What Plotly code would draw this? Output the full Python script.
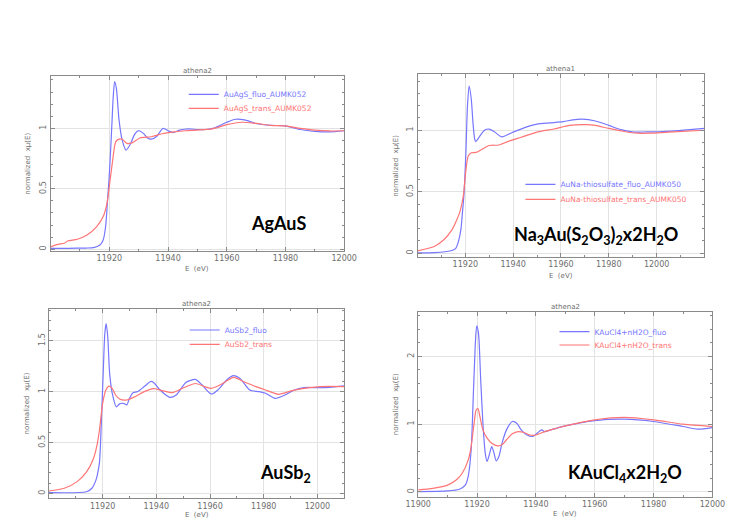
import plotly.graph_objects as go

W, H = 737, 518

# ---------------- data ----------------
# Panel 1: AgAuS
e_agaus_fluo = [11900, 11906, 11912, 11914.6, 11916.8, 11917.9, 11918.75, 11919.4, 11919.9, 11920.4, 11920.9,
                11921.3, 11921.8, 11922.4, 11923.3, 11924.4, 11925.7, 11927.2, 11928.6, 11929.9, 11931.5, 11933,
                11934.3, 11936.2, 11938.3, 11940, 11941.6, 11944, 11947, 11950, 11953, 11956, 11960, 11963, 11966,
                11970, 11975, 11980, 11985, 11990, 11995, 12000]
mu_agaus_fluo = [0.008, 0.008, 0.01, 0.013, 0.035, 0.077, 0.19, 0.41, 0.58, 0.80, 1.05,
                 1.25, 1.387, 1.33, 1.07, 0.90, 0.82, 0.87, 0.95, 0.98, 0.96, 0.92,
                 0.91, 0.935, 1.0, 0.98, 0.965, 0.985, 0.995, 0.99, 0.99, 1.005, 1.05, 1.075, 1.07,
                 1.04, 1.025, 1.02, 0.99, 0.975, 0.97, 0.98]
e_agaus_trans = [11900, 11902.5, 11904.7, 11905.8, 11909.1, 11912.4, 11915.7, 11917.9, 11919.2, 11920, 11921,
                 11922.2, 11923.3, 11924.4, 11926, 11927.7, 11930.4, 11934.3, 11938, 11942, 11946, 11950, 11955,
                 11960, 11965, 11970, 11975, 11980, 11985, 11990, 11995, 12000]
mu_agaus_trans = [0.02, 0.04, 0.05, 0.068, 0.083, 0.118, 0.187, 0.27, 0.38, 0.52, 0.71,
                  0.89, 0.91, 0.91, 0.875, 0.88, 0.92, 0.93, 0.955, 0.97, 0.98, 0.985, 0.995,
                  1.03, 1.05, 1.04, 1.025, 1.02, 1.0, 0.985, 0.978, 0.98]

# Panel 2: Na3Au(S2O3)2 x 2H2O
e_na_fluo = [11900, 11907, 11914, 11916, 11917.1, 11918.2, 11918.7, 11919.4, 11920.2, 11920.9, 11921.6, 11922.5,
             11923.2, 11923.9, 11924.3, 11926, 11928, 11929.9, 11932, 11935.3, 11940, 11946, 11950, 11955.5,
             11961, 11965, 11969, 11974.4, 11980, 11985, 11990.5, 11996, 12001, 12009, 12020]
mu_na_fluo = [0.003, 0.005, 0.02, 0.04, 0.094, 0.2, 0.31, 0.47, 0.8, 1.2, 1.36, 1.25,
              1.06, 0.93, 0.908, 0.95, 1.0, 1.01, 0.99, 0.946, 0.985, 1.03, 1.05, 1.06,
              1.07, 1.085, 1.09, 1.075, 1.04, 1.005, 0.985, 0.987, 0.987, 0.997, 1.015]
e_na_trans = [11900, 11907, 11911, 11914.4, 11916.4, 11917.8, 11919.2, 11920, 11921.2, 11922.5, 11924.5, 11926.5,
              11930, 11934, 11938, 11943.4, 11950, 11957, 11963.6, 11970.4, 11974.4, 11980, 11986.5, 11992,
              11997, 12005, 12020]
mu_na_trans = [0.02, 0.055, 0.11, 0.19, 0.27, 0.34, 0.47, 0.63, 0.79, 0.817, 0.82, 0.84,
               0.876, 0.88, 0.91, 0.943, 0.985, 1.01, 1.04, 1.046, 1.04, 1.015, 0.99, 0.976,
               0.976, 0.985, 1.0]

# Panel 3: AuSb2
e_ausb_fluo = [11900, 11914, 11916, 11917.5, 11918, 11918.8, 11919.5, 11920.2, 11920.8, 11921.3, 11921.9, 11922.6,
               11923.6, 11925.1, 11926.3, 11927.7, 11929, 11930, 11931.3, 11933, 11935.5, 11937.9, 11939, 11941.4,
               11945, 11947.4, 11951, 11954.5, 11956.9, 11960.5, 11962.9, 11966.4, 11968.8, 11971.2, 11974.8,
               11978.3, 11980.7, 11984.3, 11987.9, 11991.4, 11995, 12000, 12004.5, 12010]
mu_ausb_fluo = [0.007, 0.016, 0.05, 0.13, 0.18, 0.3, 0.69, 1.18, 1.57, 1.67, 1.54, 1.18,
                0.98, 0.85, 0.88, 0.885, 0.87, 0.935, 0.99, 1.0, 1.05, 1.1, 1.09, 1.016,
                0.944, 0.967, 1.09, 1.12, 1.07, 0.977, 1.016, 1.12, 1.157, 1.13, 1.016,
                1.0, 0.984, 0.934, 0.967, 1.016, 1.04, 1.04, 1.043, 1.056]
e_ausb_trans = [11900, 11905.7, 11910.5, 11914, 11916.4, 11917.9, 11918.8, 11920, 11921.2, 11922.4, 11923.6,
                11924.8, 11926.5, 11929, 11932, 11935.5, 11939, 11942.6, 11946, 11949.8, 11954.5, 11958, 11960.5,
                11964, 11968.8, 11972.4, 11977.1, 11980.7, 11985.5, 11990.2, 11995, 12001, 12010]
mu_ausb_trans = [0.023, 0.05, 0.115, 0.21, 0.33, 0.475, 0.62, 0.885, 1.016, 1.055, 1.03,
                 0.967, 0.925, 0.918, 0.95, 1.0, 1.03, 1.007, 0.99, 1.033, 1.08, 1.05, 1.033,
                 1.07, 1.14, 1.1, 1.05, 1.016, 0.974, 1.007, 1.033, 1.05, 1.05]

# Panel 4: KAuCl4 x 2H2O
e_kau_fluo = [11900, 11910, 11914, 11916, 11917, 11918, 11918.8, 11919.5, 11919.9, 11920.5, 11921.2, 11922,
              11922.8, 11923.4, 11924.3, 11925, 11925.8, 11926.5, 11927.4, 11928.5, 11930, 11932, 11933.5,
              11935, 11937, 11939, 11940.5, 11942, 11943, 11945, 11950, 11960, 11970, 11980, 11990, 11995, 12000]
mu_kau_fluo = [0.005, 0.015, 0.04, 0.1, 0.23, 0.62, 1.5, 2.25, 2.45, 2.34, 1.7, 1.015,
               0.57, 0.45, 0.57, 0.67, 0.57, 0.46, 0.52, 0.72, 0.916, 1.04, 1.015,
               0.916, 0.84, 0.82, 0.87, 0.916, 0.89, 0.916, 0.975, 1.054, 1.074, 1.04, 0.966, 0.926, 0.95]
e_kau_trans = [11900, 11905, 11910, 11913, 11915, 11917, 11918, 11919, 11919.7, 11920.3, 11921, 11922, 11923.5,
               11925, 11927, 11928.5, 11930, 11932, 11934, 11936, 11938, 11940, 11943, 11947, 11950, 11960,
               11970, 11980, 11990, 12000]
mu_kau_trans = [0.03, 0.054, 0.1, 0.18, 0.28, 0.47, 0.67, 1.015, 1.21, 1.23, 1.11, 0.916, 0.79,
                0.72, 0.68, 0.695, 0.77, 0.86, 0.89, 0.877, 0.84, 0.84, 0.89, 0.94, 0.975, 1.064,
                1.1, 1.064, 1.0, 0.966]

panel_titles = ["athena2", "athena1", "athena2", "athena2"]
sample_labels = ["AgAuS", "Na<sub>3</sub>Au(S<sub>2</sub>O<sub>3</sub>)<sub>2</sub>x2H<sub>2</sub>O",
                 "AuSb<sub>2</sub>", "KAuCl<sub>4</sub>x2H<sub>2</sub>O"]
fluo_names = ["AuAgS_fluo_AUMK052", "AuNa-thiosulfate_fluo_AUMK050", "AuSb2_fluo", "KAuCl4+nH2O_fluo"]
trans_names = ["AuAgS_trans_AUMK052", "AuNa-thiosulfate_trans_AUMK050", "AuSb2_trans", "KAuCl4+nH2O_trans"]
x_tickvals = [[11920, 11940, 11960, 11980, 12000],
              [11920, 11940, 11960, 11980, 12000],
              [11920, 11940, 11960, 11980, 12000],
              [11900, 11920, 11940, 11960, 11980, 12000]]
y_tickvals = [[0, 0.5, 1], [0, 0.5, 1], [0, 0.5, 1, 1.5], [0, 1, 2]]

# ---------------- layout geometry (pixels) ----------------
boxes = [(39, 75.7, 343.3, 250.7), (419.3, 74.3, 716.7, 256.7),
         (37.3, 309.3, 343.3, 498), (420, 311.7, 725, 496.7)]
x_ranges = [[11900, 12000], [11900, 12020], [11900, 12010], [11900, 12000]]
y_ranges = [[-0.012, 1.435], [-0.028, 1.455], [-0.046, 1.81], [-0.07, 2.66]]
y_minor = [0.1, 0.1, 0.1, 0.2]
label_pos = [(275.5, 222.5), (604, 235), (282, 473), (634, 473)]
legend_pos = [(219, 94.3, 108.3), (568, 184.3, 199.3), (220, 330, 344.3), (603.3, 331.7, 345)]
xtitle_off = [18, 19, 16.5, 17.5]

data = [(e_agaus_fluo, mu_agaus_fluo, e_agaus_trans, mu_agaus_trans),
        (e_na_fluo, mu_na_fluo, e_na_trans, mu_na_trans),
        (e_ausb_fluo, mu_ausb_fluo, e_ausb_trans, mu_ausb_trans),
        (e_kau_fluo, mu_kau_fluo, e_kau_trans, mu_kau_trans)]

BLUE = "#7676ff"
RED = "#ff7474"
AXC = "#8a8a8a"
TXT = "#6e6e6e"

def px(x):
    return x / W

def py(y):
    return 1 - y / H

fig = go.Figure()
layout = dict(width=W, height=H, margin=dict(l=0, r=0, t=0, b=0),
              paper_bgcolor="white", plot_bgcolor="white", showlegend=True)
annotations = []

for i in range(4):
    n = i + 1
    xa = "x" if n == 1 else f"x{n}"
    ya = "y" if n == 1 else f"y{n}"
    l, t, r, b = boxes[i]
    ef, mf, et, mt = data[i]
    leg_f = "legend" if i == 0 else f"legend{2 * i + 1}"
    leg_t = f"legend{2 * i + 2}"
    fig.add_trace(go.Scatter(x=ef, y=mf, mode="lines", name=fluo_names[i], xaxis=xa, yaxis=ya,
                             line=dict(color=BLUE, width=1.2, shape="spline", smoothing=0.7),
                             legend=leg_f))
    fig.add_trace(go.Scatter(x=et, y=mt, mode="lines", name=trans_names[i], xaxis=xa, yaxis=ya,
                             line=dict(color=RED, width=1.2, shape="spline", smoothing=0.7),
                             legend=leg_t))
    common = dict(showline=True, linecolor=AXC, linewidth=1, mirror="allticks",
                  ticks="inside", ticklen=4, tickcolor=AXC,
                  showgrid=True, gridcolor="#e3e3e3", gridwidth=1, zeroline=False,
                  tickfont=dict(family="DejaVu Sans", size=8, color=TXT))
    layout["xaxis" if n == 1 else f"xaxis{n}"] = dict(
        common, domain=[px(l), px(r)], range=x_ranges[i], anchor=ya,
        tickvals=x_tickvals[i], ticktext=[str(v) for v in x_tickvals[i]],
        minor=dict(ticks="inside", dtick=10, ticklen=2, tickcolor=AXC, showgrid=False))
    layout["yaxis" if n == 1 else f"yaxis{n}"] = dict(
        common, domain=[py(b), py(t)], range=y_ranges[i], anchor=xa,
        tickvals=y_tickvals[i], ticktext=[f"{v:g}" for v in y_tickvals[i]], tickangle=-90,
        minor=dict(ticks="inside", dtick=y_minor[i], tick0=0, ticklen=2, tickcolor=AXC, showgrid=False))
    lx, ly1, ly2 = legend_pos[i]
    for key, yy, col in ((leg_f, ly1, BLUE), (leg_t, ly2, RED)):
        layout[key] = dict(x=px(lx - 42), y=py(yy), xanchor="left", yanchor="middle",
                           bgcolor="rgba(0,0,0,0)", borderwidth=0, itemwidth=30,
                           font=dict(family="DejaVu Sans", size=7.5, color=col))
    cx = (l + r) / 2
    annotations.append(dict(text=panel_titles[i], x=px(cx), y=py(t - 5), xref="paper", yref="paper",
                            showarrow=False, xanchor="center", yanchor="middle",
                            font=dict(family="DejaVu Sans", size=7, color=TXT)))
    annotations.append(dict(text="E  (eV)", x=px(cx), y=py(b + xtitle_off[i]), xref="paper", yref="paper",
                            showarrow=False, xanchor="center", yanchor="middle",
                            font=dict(family="DejaVu Sans", size=7, color=TXT)))
    annotations.append(dict(text="normalized  xμ(E)", x=px(l - 23), y=py((t + b) / 2), xref="paper",
                            yref="paper", showarrow=False, textangle=-90, xanchor="center",
                            yanchor="middle", font=dict(family="DejaVu Sans", size=7, color=TXT)))
    lxp, lyp = label_pos[i]
    annotations.append(dict(text=f"<b>{sample_labels[i]}</b>", x=px(lxp), y=py(lyp), xref="paper",
                            yref="paper", showarrow=False, xanchor="center", yanchor="middle",
                            font=dict(family="Lato", size=18, color="black")))

layout["annotations"] = annotations
fig.update_layout(**layout)
fig.write_html("out.html")
